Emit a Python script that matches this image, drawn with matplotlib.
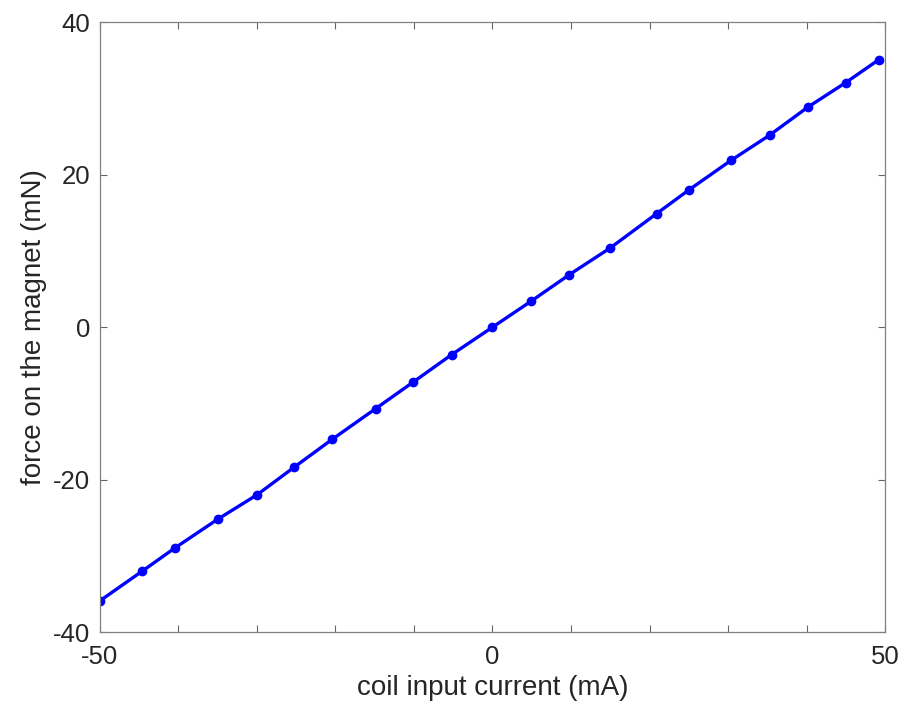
import numpy as np
import matplotlib
matplotlib.use("Agg")
import matplotlib.pyplot as plt
from matplotlib.ticker import MultipleLocator, FixedLocator

# coil current (mA) vs force on the magnet (mN)
current_ma = [-50.0, -44.6, -40.5, -35.0, -30.0, -25.3, -20.4, -14.9, -10.1, -5.2, 0.0,
              4.9, 9.8, 15.0, 20.9, 25.0, 30.4, 35.3, 40.2, 45.0, 49.2]
force_mn = [-35.9, -32.0, -29.0, -25.2, -22.0, -18.4, -14.7, -10.7, -7.2, -3.6, 0.0,
            3.4, 6.9, 10.4, 14.9, 18.0, 21.9, 25.2, 28.9, 32.1, 35.1]

x_labeled_ticks = [-50, 0, 50]
y_ticks = [-40, -20, 0, 20, 40]

plt.rcParams['font.family'] = ['Liberation Sans', 'DejaVu Sans']
plt.rcParams['axes.unicode_minus'] = False  # plain hyphen like the MATLAB export

fig = plt.figure(figsize=(9.04, 7.13), dpi=100)
ax = fig.add_axes([0.1106, 0.1136, 0.8684, 0.855])

ax.plot(current_ma, force_mn, color='#0000ff', linewidth=2.4,
        marker='o', markersize=6)

ax.set_xlim(-50, 50)
ax.set_ylim(-40, 40)
ax.xaxis.set_major_locator(FixedLocator(x_labeled_ticks))
ax.xaxis.set_minor_locator(MultipleLocator(10))
ax.yaxis.set_major_locator(FixedLocator(y_ticks))

ax.tick_params(which='both', direction='in', top=True, right=True,
               length=5, width=0.8, color='#666666', labelsize=18.5,
               labelcolor='#262626')
ax.tick_params(axis='x', which='major', pad=9)
ax.tick_params(axis='y', which='major', pad=7)
for s in ax.spines.values():
    s.set_color('#808080')
    s.set_linewidth(0.9)

ax.set_xlabel("coil input current (mA)", fontsize=20, color='#262626', labelpad=5)
ax.set_ylabel("force on the magnet (mN)", fontsize=20, color='#262626', labelpad=4)

fig.savefig("out.png", dpi=100)
